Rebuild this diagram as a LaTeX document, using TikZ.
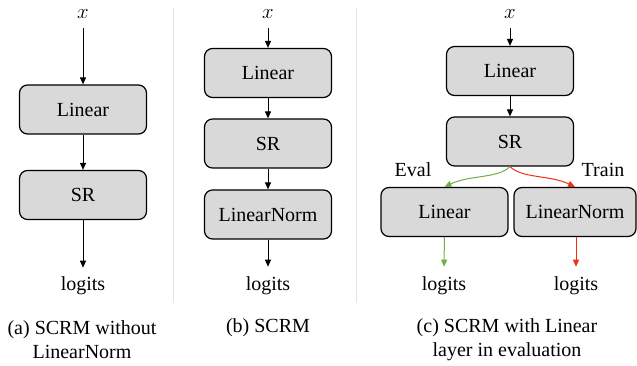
\documentclass[tikz,border=0pt]{standalone}
\usepackage{fontspec}
\setmainfont{Liberation Serif}
\usetikzlibrary{arrows.meta}
\definecolor{boxgray}{RGB}{217,217,217}
\definecolor{sepgray}{RGB}{228,228,228}
\definecolor{evalgreen}{RGB}{112,173,71}
\definecolor{trainred}{RGB}{240,48,16}
\tikzset{
  blk/.style={draw=black, fill=boxgray, rounded corners=8pt, line width=1.2pt,
    minimum width=127pt, minimum height=49pt, inner sep=0pt, font=\fontsize{20}{24}\selectfont},
  lbl/.style={inner sep=0pt, font=\fontsize{20}{24}\selectfont},
  captxt/.style={inner sep=0pt, align=center, font=\fontsize{20}{24}\selectfont},
  arr/.style={line width=1pt, -{Triangle[length=7pt,width=6pt]}},
  sepline/.style={draw=sepgray, line width=0.8pt}
}
\begin{document}
\begin{tikzpicture}[x=1pt,y=-1pt]
\useasboundingbox (0,0) rectangle (637,366);
% separators
\draw[sepline] (173,8) -- (173,303);
\draw[sepline] (356,8) -- (356,303);
% (a)
\node[lbl] (xa) at (83,14.5) {$x$};
\node[blk] (lina) at (83,109.5) {Linear};
\node[blk] (sra) at (83,195) {SR};
\node[lbl] (loga) at (83,286) {logits};
\draw[arr, shorten <=9pt] (xa.south) -- (lina);
\draw[arr] (lina) -- (sra);
\draw[arr, shorten >=9pt] (sra) -- (loga);
\node[captxt] (capa) at (82,340) {(a) SCRM without\\LinearNorm};
% (b)
\node[lbl] (xb) at (268,14.5) {$x$};
\node[blk] (linb) at (268,73) {Linear};
\node[blk] (srb) at (268,143.5) {SR};
\node[blk] (lnb) at (268,214.5) {LinearNorm};
\node[lbl] (logb) at (268,286) {logits};
\draw[arr, shorten <=9pt] (xb.south) -- (linb);
\draw[arr] (linb) -- (srb);
\draw[arr] (srb) -- (lnb);
\draw[arr, shorten >=10pt] (lnb) -- (logb);
\node[captxt] (capb) at (268,328) {(b) SCRM};
% (c)
\node[lbl] (xc) at (510,14.5) {$x$};
\node[blk] (linc) at (510,71) {Linear};
\node[blk] (src) at (510,141.5) {SR};
\node[blk] (linc2) at (444.5,212) {Linear};
\node[blk, minimum width=122pt] (lnc) at (575,212) {LinearNorm};
\node[lbl] (logc1) at (444,286) {logits};
\node[lbl] (logc2) at (576,286) {logits};
\node[lbl] (evl) at (413,170) {Eval};
\node[lbl] (trn) at (603,170) {Train};
\draw[arr, shorten <=9pt] (xc.south) -- (linc);
\draw[arr] (linc) -- (src);
\draw[arr, draw=evalgreen] (src.south) .. controls +(-12,12) and +(25,-12) .. (linc2.north);
\draw[arr, draw=trainred] (src.south) .. controls +(12,12) and +(-25,-12) .. (lnc.north);
\draw[arr, draw=evalgreen, shorten >=10pt] (linc2) -- (logc1);
\draw[arr, draw=trainred, shorten >=10pt] (lnc.south -| logc2) -- (logc2);
\node[captxt] (capc) at (507,340) {(c) SCRM with Linear\\layer in evaluation};
\end{tikzpicture}
\end{document}
